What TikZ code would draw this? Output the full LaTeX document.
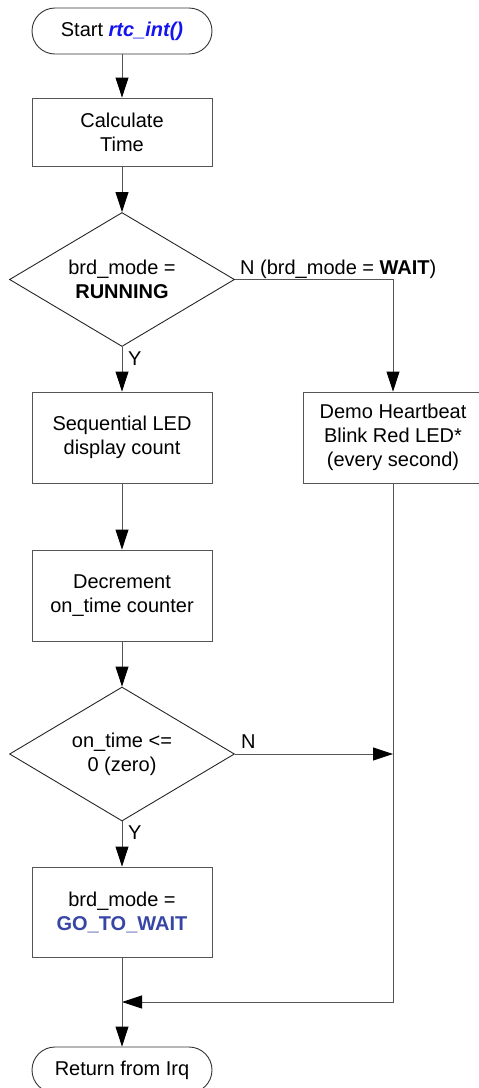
\documentclass[tikz,border=0pt]{standalone}
\usepackage{fontspec}
\setmainfont{Liberation Sans}
\usetikzlibrary{shapes.geometric,arrows.meta}
\definecolor{lnc}{RGB}{85,85,85}
\definecolor{fnblue}{RGB}{20,20,240}
\definecolor{stblue}{RGB}{55,70,165}
\tikzset{
  box/.style={draw=lnc,line width=0.9pt,rectangle,minimum width=180pt,inner sep=0pt,align=center,font=\fontsize{20}{24}\selectfont},
  term/.style={draw=black!80,line width=0.9pt,rectangle,rounded corners=23pt,minimum width=180pt,minimum height=46pt,inner sep=0pt,align=center,font=\fontsize{20}{24}\selectfont},
  dec/.style={draw=black!85,line width=0.9pt,diamond,aspect=1.68,minimum width=225pt,minimum height=134pt,inner sep=0pt,align=center,font=\fontsize{20}{24}\selectfont},
  lbl/.style={inner sep=0pt,anchor=base west,font=\fontsize{20}{24}\selectfont},
  conn/.style={draw=lnc,line width=0.9pt},
  arr/.style={conn,-{Triangle[length=20pt,width=13pt,color=black]}}
}
\begin{document}
\begin{tikzpicture}[x=1pt,y=-1pt]
\useasboundingbox (0,0) rectangle (479,1088);
\node[term] (start) at (122,31) {Start \textcolor{fnblue}{\textbf{\textit{rtc\_int()}}}};
\node[box,minimum height=68pt] (calc) at (122,132) {Calculate\\Time};
\node[dec] (d1) at (122,279.5) {brd\_mode =\\\textbf{RUNNING}};
\node[box,minimum height=91pt] (seq) at (122,437.5) {Sequential LED\\display count};
\node[box,minimum height=91pt] (demo) at (393,437.5) {Demo Heartbeat\\Blink Red LED*\\(every second)};
\node[box,minimum height=91pt] (decr) at (122,595.5) {Decrement\\on\_time counter};
\node[dec] (d2) at (122,754) {on\_time <=\\0 (zero)};
\node[box,minimum height=90pt] (go) at (122,912) {brd\_mode =\\\textcolor{stblue}{\textbf{GO\_TO\_WAIT}}};
\node[term] (ret) at (122,1070) {Return from Irq};
\coordinate (m) at (122,1002);

\draw[arr] (start) -- (calc);
\draw[arr] (calc) -- (d1);
\draw[arr] (d1) -- (seq);
\draw[arr] (d1.east) -| (demo.north);
\draw[arr] (seq) -- (decr);
\draw[arr] (decr) -- (d2);
\draw[arr] (d2) -- (go);
\draw[arr] (d2.east) -- (d2.east -| demo.south);
\draw[arr] (demo.south) |- (m);
\draw[arr] (go) -- (ret);

\node[lbl] (n1) at (240,274) {N (brd\_mode = \textbf{WAIT})};
\node[lbl] (y1) at (128,365) {Y};
\node[lbl] (n2) at (241,748) {N};
\node[lbl] (y2) at (128,839) {Y};
\end{tikzpicture}
\end{document}
